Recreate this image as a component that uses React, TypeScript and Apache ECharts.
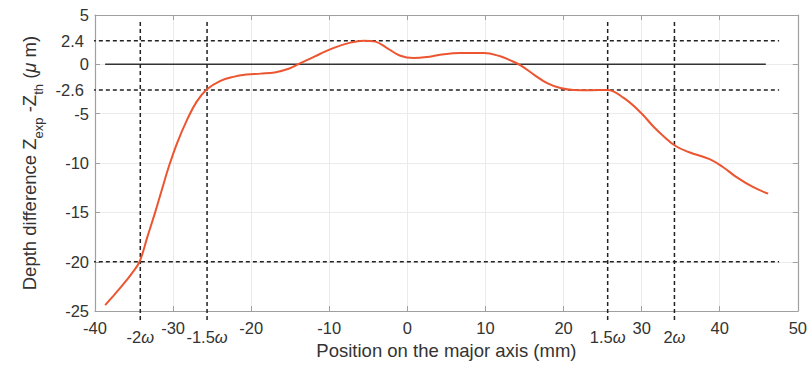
import React, { useEffect, useRef } from "react";
import * as echarts from "echarts";

const curve: [number, number][] = [
  [-38.7, -24.4], [-37.7, -23.5], [-36.5, -22.4], [-35.3, -21.2], [-34.3, -20], [-33.3, -17.5],
  [-32.3, -15], [-31.4, -12.6], [-30.6, -10.5], [-29.5, -8.0], [-28.2, -5.6], [-27, -3.8],
  [-25.7, -2.55], [-24, -1.7], [-22.3, -1.27], [-20.6, -1.04], [-18.8, -0.94], [-17, -0.82],
  [-15.2, -0.45], [-14, 0], [-12.5, 0.55], [-11.2, 1.05], [-9.5, 1.65], [-7.3, 2.2], [-5.6, 2.4],
  [-4.1, 2.3], [-2.6, 1.65], [-0.9, 0.87], [0.8, 0.64], [2.5, 0.74], [4.2, 0.97], [6.8, 1.14],
  [9.8, 1.14], [11.9, 0.82], [13.2, 0.4], [14.5, -0.1], [16.2, -1.04], [17.9, -1.9], [19.6, -2.4],
  [21.3, -2.6], [23.5, -2.62], [25.6, -2.6], [27.7, -3.4], [29.9, -4.9], [31.5, -6.3],
  [32.7, -7.2], [34.4, -8.3], [36.1, -8.9], [38.7, -9.6], [40.4, -10.4], [42.1, -11.4],
  [44.3, -12.45], [46.2, -13.1],
];

const yTickLabels = [5, 2.4, 0, -2.6, -5, -10, -15, -20, -25];
const omega = 17.1;
const omegaValues = [-2 * omega, -1.5 * omega, 1.5 * omega, 2 * omega];
const omegaLabels = ["-2", "-1.5", "1.5", "2"];
const hRefValues = [2.4, -2.6, -20];
const zeroLine: [number, number][] = [[-38.7, 0], [45.9, 0]];
const hRange = [-41.3, 47.6];
const vRange = [4.3, -26.2];

const FONT = "'Liberation Sans', Arial, sans-serif";

export default function App() {
  const ref = useRef<HTMLDivElement>(null);
  useEffect(() => {
    if (!ref.current) return;
    document.body.style.margin = "0";
    const chart = echarts.init(ref.current, null, { renderer: "svg" });
    const axisGrey = "#a0a0a0";
    const dashStyle = { color: "#222", width: 1.5, type: [4, 3] as number[] };
    const refSeries: any[] = [];
    hRefValues.forEach((v) =>
      refSeries.push({
        type: "line", clip: false, symbol: "none", silent: true,
        data: [[hRange[0], v], [hRange[1], v]], lineStyle: dashStyle, z: 3,
      })
    );
    omegaValues.forEach((v) =>
      refSeries.push({
        type: "line", clip: false, symbol: "none", silent: true,
        data: [[v, vRange[0]], [v, vRange[1]]], lineStyle: dashStyle, z: 3,
      })
    );
    chart.setOption({
      animation: false,
      textStyle: { fontFamily: FONT },
      grid: { left: 95, right: 12, top: 15, bottom: 52 },
      xAxis: [
        {
          type: "value", min: -40, max: 50, interval: 10, position: "bottom",
          axisLine: { show: true, onZero: false, lineStyle: { color: axisGrey, width: 1.2 } },
          axisTick: { inside: true, length: 5, lineStyle: { color: axisGrey } },
          axisLabel: { margin: 8, fontSize: 16.5, color: "#333", fontFamily: FONT },
          splitLine: { show: true, lineStyle: { color: "#ebebeb", width: 1 } },
          name: "Position on the major axis (mm)", nameLocation: "middle", nameGap: 29,
          nameTextStyle: { fontSize: 18.5, color: "#333", fontFamily: FONT },
        },
        {
          type: "value", min: -40, max: 50, interval: 10, position: "bottom",
          axisLine: { show: false }, axisTick: { show: false }, splitLine: { show: false },
          axisLabel: {
            customValues: omegaValues, margin: 17, fontSize: 16.5, color: "#333", fontFamily: FONT,
            formatter: (v: number) => {
              const i = omegaValues.findIndex((o) => Math.abs(o - v) < 1e-6);
              return i >= 0 ? "{n|" + omegaLabels[i] + "}{w|ω}" : "";
            },
            rich: {
              n: { fontSize: 16.5, color: "#333", fontFamily: FONT },
              w: { fontSize: 16.5, fontStyle: "italic", color: "#333", fontFamily: FONT },
            },
          },
        },
        {
          type: "value", min: -40, max: 50, interval: 10, position: "top",
          axisLine: { show: true, onZero: false, lineStyle: { color: axisGrey, width: 1.2 } },
          axisTick: { inside: true, length: 5, lineStyle: { color: axisGrey } },
          axisLabel: { show: false }, splitLine: { show: false },
        },
      ],
      yAxis: [
        {
          type: "value", min: -25, max: 5, interval: 5, position: "left",
          axisLine: { show: true, onZero: false, lineStyle: { color: axisGrey, width: 1.2 } },
          axisTick: { inside: true, length: 5, lineStyle: { color: axisGrey } },
          axisLabel: {
            customValues: yTickLabels, margin: 6, fontSize: 16.5, color: "#333", fontFamily: FONT,
            formatter: (v: number) => (v === 2.4 || v === -2.6 ? `{d|${v}}` : `{n|${v}}`),
            rich: {
              n: { fontSize: 16.5, color: "#333", fontFamily: FONT },
              d: { fontSize: 16.5, color: "#333", fontFamily: FONT, padding: [0, 5, 0, 0] },
            },
          },
          splitLine: { show: true, lineStyle: { color: "#ebebeb", width: 1 } },
          name: "{b|Depth difference Z}{s|exp}{b| -Z}{s|th}{b| (}{i|μ}{b| m)}",
          nameLocation: "middle", nameGap: 47, nameRotate: 90,
          nameTextStyle: {
            fontSize: 18.5, color: "#333", fontFamily: FONT,
            rich: {
              b: { fontSize: 18.5, color: "#333", fontFamily: FONT, lineHeight: 30 },
              s: { fontSize: 13, color: "#333", fontFamily: FONT, lineHeight: 13, verticalAlign: "bottom" },
              i: { fontSize: 18.5, color: "#333", fontFamily: FONT, fontStyle: "italic", lineHeight: 30 },
            },
          },
        },
        {
          type: "value", min: -25, max: 5, interval: 5, position: "right",
          axisLine: { show: true, onZero: false, lineStyle: { color: axisGrey, width: 1.2 } },
          axisTick: { inside: true, length: 5, lineStyle: { color: axisGrey } },
          axisLabel: { show: false }, splitLine: { show: false },
        },
      ],
      series: [
        ...refSeries,
        {
          type: "line", symbol: "none", silent: true, data: zeroLine,
          lineStyle: { color: "#333", width: 1.5 }, z: 2,
        },
        {
          type: "line", symbol: "none", smooth: 0.4, data: curve,
          lineStyle: { color: "#ec5530", width: 2 }, z: 4,
        },
      ],
    });
    return () => chart.dispose();
  }, []);
  return <div ref={ref} style={{ width: 810, height: 365 }} />;
}
